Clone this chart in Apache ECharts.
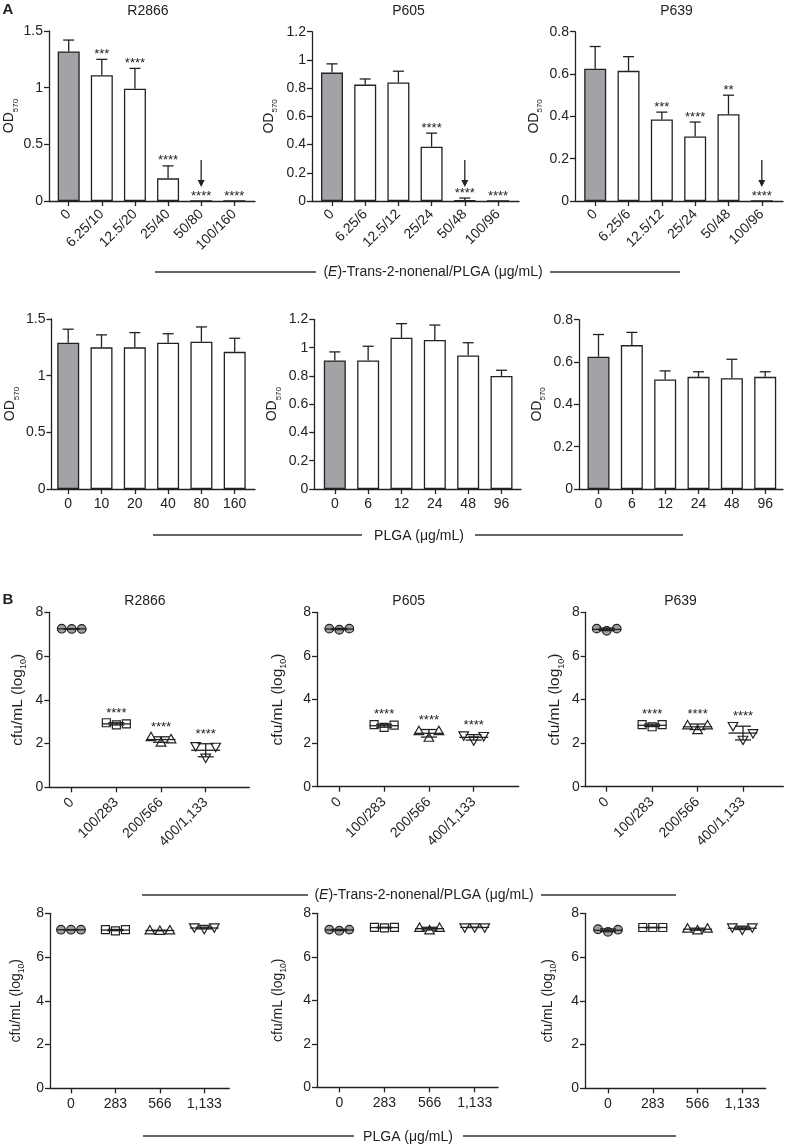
<!DOCTYPE html>
<html><head><meta charset="utf-8">
<script src="https://cdn.jsdelivr.net/npm/echarts@6/dist/echarts.min.js"></script>
<style>html,body{margin:0;padding:0;background:#fff}#c{width:787px;height:1145px}</style>
</head><body><div id="c"></div>
<script>
// ================= DATA =================
const strains = ['R2866', 'P605', 'P639'];

// Panel A, top row: (E)-Trans-2-nonenal/PLGA (ug/mL) -> OD570 mean, SD, significance
const catsA1_R2866 = ['0', '6.25/10', '12.5/20', '25/40', '50/80', '100/160'];
const catsA1_P605 = ['0', '6.25/6', '12.5/12', '25/24', '50/48', '100/96'];
const catsA1_P639 = ['0', '6.25/6', '12.5/12', '25/24', '50/48', '100/96'];
const odA1_R2866 = [1.32, 1.11, 0.99, 0.20, 0, 0];
const sdA1_R2866 = [0.10, 0.14, 0.18, 0.11, 0, 0];
const sigA1_R2866 = ['', '***', '****', '****', '****', '****'];
const arrowA1_R2866 = [0, 0, 0, 0, 1, 0];
const odA1_P605 = [0.91, 0.825, 0.84, 0.385, 0.005, 0];
const sdA1_P605 = [0.062, 0.04, 0.08, 0.096, 0.016, 0];
const sigA1_P605 = ['', '', '', '****', '****', '****'];
const arrowA1_P605 = [0, 0, 0, 0, 1, 0];
const odA1_P639 = [0.625, 0.615, 0.385, 0.305, 0.41, 0];
const sdA1_P639 = [0.105, 0.067, 0.035, 0.068, 0.09, 0];
const sigA1_P639 = ['', '', '***', '****', '**', '****'];
const arrowA1_P639 = [0, 0, 0, 0, 0, 1];

// Panel A, bottom row: PLGA (ug/mL)
const catsA2_R2866 = ['0', '10', '20', '40', '80', '160'];
const catsA2_P605 = ['0', '6', '12', '24', '48', '96'];
const catsA2_P639 = ['0', '6', '12', '24', '48', '96'];
const odA2_R2866 = [1.29, 1.25, 1.25, 1.29, 1.30, 1.21];
const sdA2_R2866 = [0.12, 0.11, 0.13, 0.08, 0.13, 0.12];
const odA2_P605 = [0.91, 0.91, 1.07, 1.055, 0.945, 0.80];
const sdA2_P605 = [0.06, 0.10, 0.10, 0.105, 0.09, 0.04];
const odA2_P639 = [0.625, 0.68, 0.518, 0.53, 0.523, 0.53];
const sdA2_P639 = [0.105, 0.06, 0.04, 0.024, 0.09, 0.024];

// Panel B, top row: (E)-Trans-2-nonenal/PLGA (ug/mL) -> cfu/mL (log10), three replicates
const catsB1 = ['0', '100/283', '200/566', '400/1,133'];
const sigB1 = ['', '****', '****', '****'];
const cfuB1_R2866 = [[7.25, 7.24, 7.24], [2.95, 2.85, 2.9], [2.3, 2.05, 2.2], [1.88, 1.35, 1.85]];
const cfuB1_P605 = [[7.25, 7.2, 7.25], [2.85, 2.72, 2.82], [2.55, 2.25, 2.55], [2.35, 2.12, 2.32]];
const cfuB1_P639 = [[7.25, 7.15, 7.25], [2.85, 2.75, 2.85], [2.82, 2.6, 2.82], [2.78, 2.15, 2.45]];

// Panel B, bottom row: PLGA (ug/mL)
const catsB2 = ['0', '283', '566', '1,133'];
const cfuB2_R2866 = [[7.25, 7.25, 7.25], [7.25, 7.2, 7.25], [7.22, 7.2, 7.22], [7.35, 7.28, 7.35]];
const cfuB2_P605 = [[7.25, 7.2, 7.25], [7.35, 7.33, 7.35], [7.33, 7.22, 7.33], [7.35, 7.35, 7.35]];
const cfuB2_P639 = [[7.27, 7.15, 7.25], [7.35, 7.35, 7.35], [7.3, 7.22, 7.3], [7.35, 7.25, 7.35]];

// ================= LAYOUT (pixels) =================
const layA1 = [
  {ax: 49, c0: 68.7, cN: 234.3, end: 255, top: 31, zero: 201, gap: 29},
  {ax: 312, c0: 332, cN: 498, end: 519, top: 31.7, zero: 201, gap: 33},
  {ax: 575, c0: 595.2, cN: 761.8, end: 783, top: 31.7, zero: 201, gap: 31}
];
const layA2 = [
  {ax: 51.5, c0: 68.2, cN: 234.7, end: 255, top: 319, zero: 489, gap: 31},
  {ax: 314.3, c0: 334.8, cN: 501.5, end: 521, top: 319.4, zero: 489, gap: 32},
  {ax: 579, c0: 598.5, cN: 765.2, end: 783, top: 319.7, zero: 489, gap: 32}
];
const layB1 = [
  {ax: 49.3, c0: 71.7, cN: 205.7, end: 249.3, top: 612.3, zero: 787.3, gap: 21},
  {ax: 317, c0: 339.3, cN: 473.7, end: 518.7, top: 612.3, zero: 786.7, gap: 29},
  {ax: 585.7, c0: 606.7, cN: 743, end: 783.3, top: 612.3, zero: 786.7, gap: 20}
];
const layB2 = [
  {ax: 50, c0: 71, cN: 204.3, end: 229.3, top: 913.3, zero: 1088.3, gap: 24},
  {ax: 317, c0: 339.3, cN: 474.7, end: 498, top: 913.3, zero: 1087.3, gap: 29},
  {ax: 585, c0: 608, cN: 742.3, end: 765.7, top: 913.3, zero: 1088.3, gap: 27}
];

const FONT = 'Liberation Sans, Arial, Helvetica, sans-serif';
const INK = '#222';
const grids = [], xAxes = [], yAxes = [], series = [];

const odName = '{a|OD}{b|570}';
const odRich = {a: {fontSize: 14, fontFamily: FONT, color: INK, lineHeight: 20, verticalAlign: 'middle'},
                b: {fontSize: 8, fontFamily: FONT, color: INK, lineHeight: 8, verticalAlign: 'bottom'}};
const cfuName = '{a|cfu/mL (log}{b|10}{a|)}';
const cfuRich1 = {a: {fontSize: 15.5, fontFamily: FONT, color: INK, lineHeight: 21, verticalAlign: 'middle'},
                  b: {fontSize: 9, fontFamily: FONT, color: INK, lineHeight: 9, verticalAlign: 'bottom'}};
const cfuRich2 = {a: {fontSize: 14, fontFamily: FONT, color: INK, lineHeight: 20, verticalAlign: 'middle'},
                  b: {fontSize: 8.5, fontFamily: FONT, color: INK, lineHeight: 8, verticalAlign: 'bottom'}};

function addPanel(L, cats, rotate, yMax, yInt, yName, rich, lblMargin) {
  const k = grids.length;
  const n = cats.length;
  const sp = (L.cN - L.c0) / (n - 1);
  grids.push({left: L.ax, top: L.top, width: L.end - L.ax, height: L.zero - L.top, containLabel: false});
  const idx = cats.map((c, i) => i);
  xAxes.push({
    gridIndex: k, type: 'value',
    min: -(L.c0 - L.ax) / sp, max: (n - 1) + (L.end - L.cN) / sp,
    axisLine: {show: true, onZero: false, lineStyle: {color: INK, width: 1.3}},
    axisTick: {show: true, customValues: idx, length: 5, lineStyle: {color: INK, width: 1.3}},
    axisLabel: {customValues: idx, formatter: v => cats[Math.round(v)], rotate: rotate,
      fontSize: 14, fontFamily: FONT, color: INK, margin: lblMargin},
    splitLine: {show: false}
  });
  yAxes.push({
    gridIndex: k, type: 'value', min: 0, max: yMax, interval: yInt,
    axisLine: {show: true, onZero: false, lineStyle: {color: INK, width: 1.3}},
    axisTick: {show: true, length: 5, lineStyle: {color: INK, width: 1.3}},
    axisLabel: {fontSize: 14, fontFamily: FONT, color: INK, margin: 6},
    splitLine: {show: false},
    name: yName, nameLocation: 'middle', nameGap: L.gap,
    nameTextStyle: {rich: rich}
  });
  return k;
}

function addBars(k, vals, sds, sigs, arrows) {
  series.push({
    type: 'bar', xAxisIndex: k, yAxisIndex: k, barWidth: 22, silent: true,
    data: vals.map((v, i) => ({value: [i, v], itemStyle: {color: i === 0 ? '#a3a3a7' : '#ffffff'}})),
    itemStyle: {borderColor: INK, borderWidth: 1.3}
  });
  series.push({
    type: 'custom', xAxisIndex: k, yAxisIndex: k, silent: true, z: 5,
    data: vals.map((v, i) => [i, v + sds[i]]),
    renderItem: (params, api) => {
      const i = params.dataIndex;
      const v = vals[i], s = sds[i];
      const p0 = api.coord([i, v]);
      const p1 = api.coord([i, v + s]);
      const ls = {stroke: INK, lineWidth: 1.3};
      const ch = [];
      if (s > 0) {
        ch.push({type: 'line', shape: {x1: p0[0], y1: p0[1], x2: p1[0], y2: p1[1]}, style: ls});
        ch.push({type: 'line', shape: {x1: p1[0] - 5.5, y1: p1[1], x2: p1[0] + 5.5, y2: p1[1]}, style: ls});
      }
      if (sigs && sigs[i]) {
        ch.push({type: 'text', style: {text: sigs[i], x: p1[0], y: p1[1] + 1.5, align: 'center', verticalAlign: 'bottom',
          textAlign: 'center', textVerticalAlign: 'bottom', font: '13px ' + FONT, fill: INK}});
      }
      if (arrows && arrows[i]) {
        const z = api.coord([i, 0]);
        ch.push({type: 'line', shape: {x1: z[0], y1: z[1] - 41, x2: z[0], y2: z[1] - 20}, style: ls});
        ch.push({type: 'polygon', shape: {points: [[z[0] - 3.5, z[1] - 21], [z[0] + 3.5, z[1] - 21], [z[0], z[1] - 14]]},
          style: {fill: INK}});
      }
      return {type: 'group', children: ch};
    }
  });
}

function stats(a) {
  const m = a.reduce((s, x) => s + x, 0) / a.length;
  const v = a.reduce((s, x) => s + (x - m) * (x - m), 0) / (a.length - 1);
  return [m, Math.sqrt(v)];
}

function marker(shape, cx, cy) {
  const st = {fill: '#fff', stroke: INK, lineWidth: 1.2};
  if (shape === 0) return {type: 'circle', shape: {cx: cx, cy: cy, r: 4.3}, style: {fill: '#a0a0a4', stroke: INK, lineWidth: 1.2}};
  if (shape === 1) return {type: 'rect', shape: {x: cx - 4, y: cy - 4, width: 8, height: 8}, style: st};
  if (shape === 2) return {type: 'polygon', shape: {points: [[cx, cy - 4.8], [cx + 4.8, cy + 3.6], [cx - 4.8, cy + 3.6]]}, style: st};
  return {type: 'polygon', shape: {points: [[cx - 4.8, cy - 3.6], [cx + 4.8, cy - 3.6], [cx, cy + 4.8]]}, style: st};
}

function addDots(k, groups, sigs) {
  series.push({
    type: 'custom', xAxisIndex: k, yAxisIndex: k, silent: true, z: 5,
    data: groups.map((g, i) => [i, stats(g)[0]]),
    renderItem: (params, api) => {
      const i = params.dataIndex;
      const g = groups[i];
      const [m, s] = stats(g);
      const c = api.coord([i, m]);
      const ls = {stroke: INK, lineWidth: 1.3};
      const ch = [];
      g.forEach((v, j) => {
        const p = api.coord([i, v]);
        ch.push(marker(i, c[0] + (j - 1) * 10, p[1]));
      });
      const hi = api.coord([i, m + s]), lo = api.coord([i, m - s]);
      ch.push({type: 'line', shape: {x1: c[0] - 14.5, y1: c[1], x2: c[0] + 14.5, y2: c[1]}, style: ls});
      ch.push({type: 'line', shape: {x1: c[0], y1: hi[1], x2: c[0], y2: lo[1]}, style: ls});
      ch.push({type: 'line', shape: {x1: c[0] - 8, y1: hi[1], x2: c[0] + 8, y2: hi[1]}, style: ls});
      ch.push({type: 'line', shape: {x1: c[0] - 8, y1: lo[1], x2: c[0] + 8, y2: lo[1]}, style: ls});
      if (sigs && sigs[i]) {
        const ref = Math.min(api.coord([i, Math.max.apply(null, g)])[1], hi[1]);
        ch.push({type: 'text', style: {text: sigs[i], x: c[0], y: ref - 3, align: 'center', verticalAlign: 'bottom',
          textAlign: 'center', textVerticalAlign: 'bottom', font: '13px ' + FONT, fill: INK}});
      }
      return {type: 'group', children: ch};
    }
  });
}

// ---- Build panels ----
let k;
k = addPanel(layA1[0], catsA1_R2866, 45, 1.5, 0.5, odName, odRich, 11); addBars(k, odA1_R2866, sdA1_R2866, sigA1_R2866, arrowA1_R2866);
k = addPanel(layA1[1], catsA1_P605, 45, 1.2, 0.2, odName, odRich, 11); addBars(k, odA1_P605, sdA1_P605, sigA1_P605, arrowA1_P605);
k = addPanel(layA1[2], catsA1_P639, 45, 0.8, 0.2, odName, odRich, 11); addBars(k, odA1_P639, sdA1_P639, sigA1_P639, arrowA1_P639);
k = addPanel(layA2[0], catsA2_R2866, 0, 1.5, 0.5, odName, odRich, 8); addBars(k, odA2_R2866, sdA2_R2866, null, null);
k = addPanel(layA2[1], catsA2_P605, 0, 1.2, 0.2, odName, odRich, 8); addBars(k, odA2_P605, sdA2_P605, null, null);
k = addPanel(layA2[2], catsA2_P639, 0, 0.8, 0.2, odName, odRich, 8); addBars(k, odA2_P639, sdA2_P639, null, null);
k = addPanel(layB1[0], catsB1, 45, 8, 2, cfuName, cfuRich1, 13); addDots(k, cfuB1_R2866, sigB1);
k = addPanel(layB1[1], catsB1, 45, 8, 2, cfuName, cfuRich1, 13); addDots(k, cfuB1_P605, sigB1);
k = addPanel(layB1[2], catsB1, 45, 8, 2, cfuName, cfuRich1, 13); addDots(k, cfuB1_P639, sigB1);
k = addPanel(layB2[0], catsB2, 0, 8, 2, cfuName, cfuRich2, 9); addDots(k, cfuB2_R2866, null);
k = addPanel(layB2[1], catsB2, 0, 8, 2, cfuName, cfuRich2, 9); addDots(k, cfuB2_P605, null);
k = addPanel(layB2[2], catsB2, 0, 8, 2, cfuName, cfuRich2, 9); addDots(k, cfuB2_P639, null);

// ---- Decorations: titles, section letters, group axis titles ----
function txt(x, y, text, size, opts) {
  return Object.assign({type: 'text', x: x, y: y, silent: true,
    style: Object.assign({text: text, font: size + 'px ' + FONT, fill: INK, align: 'center', verticalAlign: 'middle',
      textAlign: 'center', textVerticalAlign: 'middle'}, (opts || {}))});
}
function hline(x1, x2, y) {
  return {type: 'line', silent: true, shape: {x1: x1, y1: y, x2: x2, y2: y}, style: {stroke: '#333', lineWidth: 1.3}};
}
const titleX_A = [148, 408.5, 676.5];
const titleX_B = [145, 408.7, 680.5];
const graphics = [];
strains.forEach((s, i) => {
  graphics.push(txt(titleX_A[i], 11, s, 14));
  graphics.push(txt(titleX_B[i], 601, s, 14));
});
graphics.push(txt(8, 10, 'A', 15, {font: 'bold 15px ' + FONT}));
graphics.push(txt(8, 600, 'B', 15, {font: 'bold 15px ' + FONT}));

const nonenalRich = {n: {fontSize: 14, fontFamily: FONT, color: INK}, i: {fontSize: 14, fontFamily: FONT, color: INK, fontStyle: 'italic'}};
const nonenalText = '{n|(}{i|E}{n|)-Trans-2-nonenal/PLGA (\u03bcg/mL)}';
graphics.push(hline(155, 316, 272), hline(550, 680, 272));
graphics.push(txt(433, 272, nonenalText, 14, {rich: nonenalRich}));
graphics.push(hline(153, 362, 535), hline(475, 683, 535));
graphics.push(txt(419, 536, 'PLGA (\u03bcg/mL)', 14));
graphics.push(hline(142, 308, 895), hline(541, 676, 895));
graphics.push(txt(424, 895, nonenalText, 14, {rich: nonenalRich}));
graphics.push(hline(143, 354, 1136), hline(463, 676, 1136));
graphics.push(txt(408, 1137, 'PLGA (\u03bcg/mL)', 14));

const chart = echarts.init(document.getElementById('c'), null, {renderer: 'canvas'});
chart.setOption({
  animation: false,
  backgroundColor: '#fff',
  textStyle: {fontFamily: FONT, color: INK},
  grid: grids, xAxis: xAxes, yAxis: yAxes, series: series,
  graphic: graphics
});
</script></body></html>
